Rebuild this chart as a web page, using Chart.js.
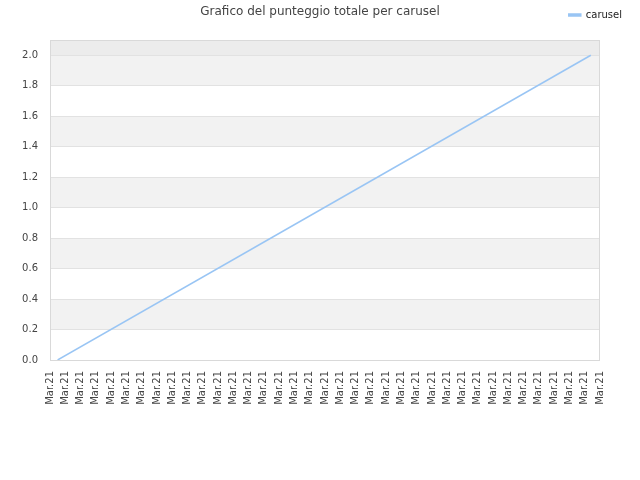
<!DOCTYPE html>
<html>
<head>
<meta charset="utf-8">
<script src="https://cdn.jsdelivr.net/npm/chart.js@4.4.1/dist/chart.umd.min.js"></script>
<style>
  html, body { margin: 0; background: #fff; }
  #wrap { width: 640px; height: 480px; }
</style>
</head>
<body>
<div id="wrap"><canvas id="chart"></canvas></div>
<script>
const chartTitle = 'Grafico del punteggio totale per carusel';
const seriesName = 'carusel';
const xTickLabels = ['Mar.21', 'Mar.21', 'Mar.21', 'Mar.21', 'Mar.21', 'Mar.21', 'Mar.21', 'Mar.21',
  'Mar.21', 'Mar.21', 'Mar.21', 'Mar.21', 'Mar.21', 'Mar.21', 'Mar.21', 'Mar.21', 'Mar.21', 'Mar.21',
  'Mar.21', 'Mar.21', 'Mar.21', 'Mar.21', 'Mar.21', 'Mar.21', 'Mar.21', 'Mar.21', 'Mar.21', 'Mar.21',
  'Mar.21', 'Mar.21', 'Mar.21', 'Mar.21', 'Mar.21', 'Mar.21', 'Mar.21', 'Mar.21', 'Mar.21'];
// position of each point along the tick labels, and its total score
const pointPos = [0.5, 35.4];
const scores = [0, 2];
const yMax = 2.1;
const yStep = 0.2;

const lineColor = '#99c5f4';
const font = 'DejaVu Sans';

// alternating grey bands, plot frame and title
const decor = {
  id: 'decor',
  beforeLayout(chart) {
    // legend row takes the whole strip above the plot
    const lg = chart.legend;
    if (lg && !lg._patched) {
      const fit = lg.fit;
      lg.fit = function () { fit.call(this); this.height = 40; };
      lg._patched = true;
    }
  },
  beforeDraw(chart) {
    const { ctx, chartArea: a, scales: { y } } = chart;
    const ticks = y.ticks.map(t => t.value);
    ctx.save();
    ctx.fillStyle = '#f2f2f2';
    for (let i = 1; i + 1 < ticks.length; i += 2) {
      const top = y.getPixelForValue(ticks[i + 1]);
      const bot = y.getPixelForValue(ticks[i]);
      ctx.fillRect(a.left, top, a.width, bot - top);
    }
    ctx.fillStyle = '#ececec';
    ctx.fillRect(a.left, a.top, a.width, y.getPixelForValue(ticks[ticks.length - 1]) - a.top);
    ctx.restore();
  },
  afterDraw(chart) {
    const { ctx, chartArea: a } = chart;
    ctx.save();
    ctx.strokeStyle = '#d9d9d9';
    ctx.lineWidth = 1;
    ctx.strokeRect(a.left + 0.5, a.top + 0.5, a.width - 1, a.height);
    ctx.fillStyle = '#444';
    ctx.font = '12px "' + font + '"';
    ctx.textAlign = 'center';
    ctx.textBaseline = 'middle';
    ctx.fillText(chartTitle, chart.width / 2, 12);
    ctx.restore();
  }
};

new Chart(document.getElementById('chart'), {
  type: 'line',
  data: {
    datasets: [{
      label: seriesName,
      data: pointPos.map((x, i) => ({ x: x, y: scores[i] })),
      borderColor: lineColor,
      backgroundColor: lineColor,
      borderWidth: 1.5,
      pointRadius: 0,
      tension: 0
    }]
  },
  options: {
    responsive: true,
    maintainAspectRatio: false,
    animation: false,
    layout: { padding: { right: 8, left: 0, top: 0, bottom: 0 } },
    plugins: {
      title: { display: false },
      tooltip: { enabled: false },
      legend: {
        position: 'top',
        align: 'end',
        labels: {
          boxWidth: 12,
          boxHeight: 2,
          color: '#222',
          font: { family: font, size: 10 }
        }
      }
    },
    scales: {
      x: {
        type: 'linear',
        min: 0,
        max: xTickLabels.length - 1,
        grid: { display: false },
        border: { display: false },
        ticks: {
          stepSize: 1,
          autoSkip: false,
          maxRotation: 90,
          minRotation: 90,
          color: '#444',
          font: { family: font, size: 10 },
          callback: (v) => xTickLabels[v]
        },
        afterFit(scale) {
          scale.height = 120;
          scale.paddingRight = 40;
        }
      },
      y: {
        min: 0,
        max: yMax,
        grid: { color: '#e2e2e2', drawTicks: false },
        border: { display: false },
        ticks: {
          stepSize: yStep,
          includeBounds: false,
          padding: 12,
          color: '#444',
          font: { family: font, size: 10 },
          callback: (v) => v.toFixed(1)
        },
        afterFit(scale) {
          scale.width = 50;
        }
      }
    }
  },
  plugins: [decor]
});
</script>
</body>
</html>
